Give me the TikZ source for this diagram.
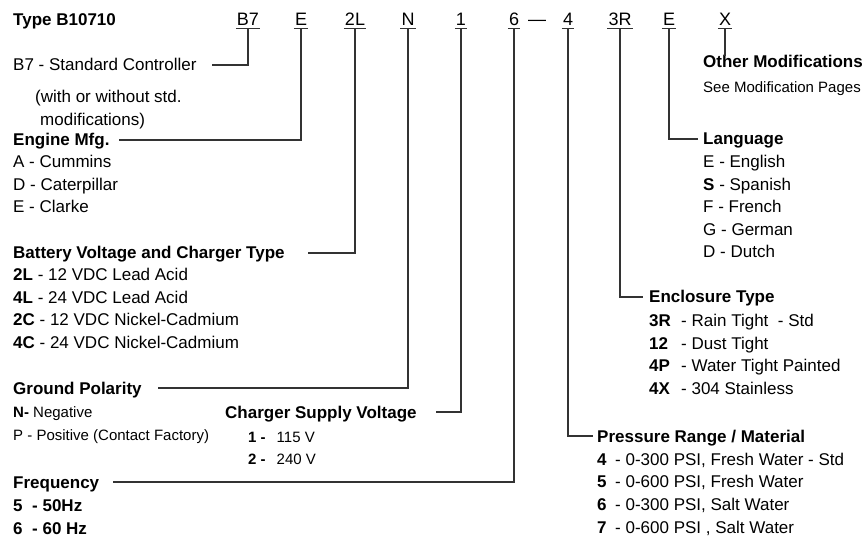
\documentclass[tikz,border=0pt]{standalone}
\usepackage{fontspec}
\setmainfont{Liberation Sans}
\usetikzlibrary{positioning}
\tikzset{
  code/.style={font=\fontsize{18}{20}\selectfont,inner xsep=1pt,inner ysep=2.5pt,
    text height=13pt,text depth=0pt,anchor=base},
  head/.style={font=\fontsize{17}{20}\selectfont\bfseries,inner sep=0pt,
    text height=12pt,text depth=0pt,anchor=base west},
  item/.style={font=\fontsize{17}{20}\selectfont,inner sep=0pt,anchor=base west},
  small/.style={font=\fontsize{15}{18}\selectfont,inner sep=0pt,anchor=base west},
  lead/.style={draw=black!80,line width=1.2pt},
}

\begin{document}
\begin{tikzpicture}[x=1pt,y=-1pt]
  \useasboundingbox (0,0) rectangle (865,537);
  % model code
  \node[head] (type) at (13,26) {Type B10710};
  \node[code] (cB7) at (248,26) {B7};
  \node[code] (cE)  at (301,26) {E};
  \node[code] (c2L) at (355,26) {2L};
  \node[code] (cN)  at (408,26) {N};
  \node[code] (c1)  at (461,26) {1};
  \node[code] (c6)  at (514,26) {6};
  \node[code,inner sep=0pt] (dash) at (537,26) {—};
  \node[code] (c4)  at (568,26) {4};
  \node[code] (c3R) at (620,26) {3R};
  \node[code] (cL)  at (669,26) {E};
  \node[code] (cX)  at (725,26) {X};
  \foreach \c in {cB7,cE,c2L,cN,c1,c6,c4,c3R,cL,cX}
    \draw[lead] (\c.south west) -- (\c.south east);

  % left column
  \node[item] (hB7) at (13,71) {B7 - Standard Controller};
  \node[item] (std1) at (35,103) {(with or without std.};
  \node[item] (std2) at (40,126) {modifications)};

  \node[head] (hEng) at (13,146) {Engine Mfg.};
  \foreach \t [count=\i from 0] in {A - Cummins,D - Caterpillar,E - Clarke}
    \node[item] (eng\i) at (13,{168+22.5*\i}) {\t};

  \node[head] (hBat) at (13,259) {Battery Voltage and Charger Type};
  \foreach \t [count=\i from 0] in {{\textbf{2L} - 12 VDC Lead Acid},
      {\textbf{4L} - 24 VDC Lead Acid},{\textbf{2C} - 12 VDC Nickel-Cadmium},
      {\textbf{4C} - 24 VDC Nickel-Cadmium}}
    \node[item] (bat\i) at (13,{281+22.5*\i}) {\t};

  \node[head] (hGnd) at (13,394) {Ground Polarity};
  \node[small] (gnd0) at (13,417) {\textbf{N-} Negative};
  \node[small] (gnd1) at (13,440) {P - Positive (Contact Factory)};

  \node[head] (hChg) at (225,418) {Charger Supply Voltage};
  \node[small] (chg0) at (248,442) {\textbf{1 -}\hspace{11pt}115 V};
  \node[small] (chg1) at (248,464) {\textbf{2 -}\hspace{11pt}240 V};

  \node[head] (hFrq) at (13,488) {Frequency};
  \foreach \t [count=\i from 0] in {{50Hz},{60 Hz}}
    \node[item,font=\fontsize{17}{20}\selectfont\bfseries] (frq\i) at (13,{511+23*\i})
      {\makebox[19pt][l]{\the\numexpr\i+5\relax}- \t};

  % right column
  \node[head] (hMod) at (703,68) {Other Modifications};
  \node[small] (mod0) at (703,93) {See Modification Pages};

  \node[head] (hLan) at (703,145) {Language};
  \foreach \t [count=\i from 0] in {E - English,{\textbf{S} - Spanish},F - French,
      G - German,D - Dutch}
    \node[item] (lan\i) at (703,{168+22.5*\i}) {\t};

  \node[head] (hEnc) at (649,303) {Enclosure Type};
  \foreach \k/\t [count=\i from 0] in {3R/{Rain Tight\ \ - Std},12/{Dust Tight},
      4P/{Water Tight Painted},4X/{304 Stainless}}
    \node[item] (enc\i) at (649,{326.5+22.5*\i}) {\makebox[32pt][l]{\textbf{\k}}- \t};

  \node[head] (hPrs) at (597,442) {Pressure Range / Material};
  \foreach \k/\t [count=\i from 0] in {4/{0-300 PSI, Fresh Water - Std},
      5/{0-600 PSI, Fresh Water},6/{0-300 PSI, Salt Water},7/{0-600 PSI , Salt Water}}
    \node[item] (prs\i) at (597,{465+22.7*\i}) {\makebox[18pt][l]{\textbf{\k}}- \t};

  % leaders
  \draw[lead] (cB7.south) |- ([xshift=15pt]hB7.east);
  \draw[lead] (cE.south)  |- ([xshift=9pt]hEng.east);
  \draw[lead] (c2L.south) |- ([xshift=23pt]hBat.east);
  \draw[lead] (cN.south)  |- ([xshift=16pt]hGnd.east);
  \draw[lead] (c1.south)  |- ([xshift=19pt]hChg.east);
  \draw[lead] (c6.south)  |- ([xshift=14pt]hFrq.east);
  \draw[lead] (c4.south)  |- ([xshift=-4pt]hPrs.west);
  \draw[lead] (c3R.south) |- ([xshift=-6pt]hEnc.west);
  \draw[lead] (cL.south)  |- ([xshift=-5pt]hLan.west);
  \draw[lead] (cX.south)  -- (cX.south |- hMod.north);
\end{tikzpicture}
\end{document}
